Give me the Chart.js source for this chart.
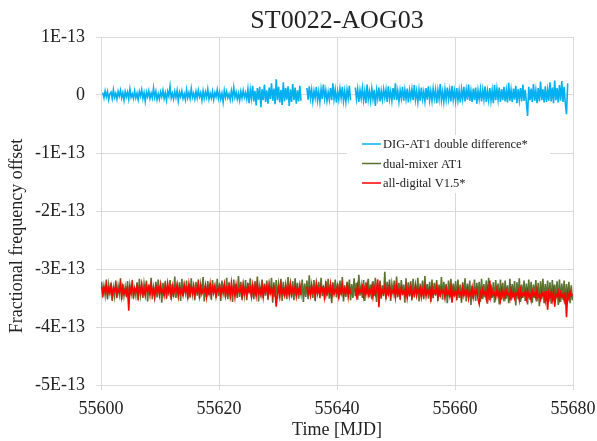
<!DOCTYPE html>
<html>
<head>
<meta charset="utf-8">
<script src="https://cdn.jsdelivr.net/npm/chart.js@4.4.1/dist/chart.umd.min.js"></script>
<style>
    html, body { margin: 0; padding: 0; background: #fff; }
    #wrap { width: 597px; height: 441px; }
</style>
</head>
<body>
<div id="wrap"><canvas id="chart" width="597" height="441"></canvas></div>
<script>
// sampling: MJD 55600.1 + 0.2 * i, values in units of 1E-15
const mjdStart = 55600.1;
const mjdStep = 0.2;

const yTicks = [-500, -400, -300, -200, -100, 0, 100];
const xTicks = [55600, 55620, 55640, 55660, 55680];

const seriesNames = ['DIG-AT1 double difference*', 'dual-mixer AT1', 'all-digital V1.5*'];
const seriesColors = ['#00b0f0', '#5a7330', '#ff0000'];

const digAt1 = [
    null, 4, -5, 7, -3, 6, -8, 2, 5, -6, 9, -4, 3, -7, 6, -2, 8, -5, 4, -9,
    6, -3, 5, -7, 10, -4, 2, -6, 7, -5, 3, -8, 6, -2, 9, -6, 4, -11, 5, -3,
    7, -6, 3, -5, 12, -4, 6, -8, 2, -7, 5, -3, 8, -6, 4, -9, 6, -2, 15, -5,
    3, -7, 6, -4, 8, -10, 5, -3, 7, -6, 2, -8, 9, -5, 4, -6, 11, -4, 3, -7,
    6, -5, 8, -3, 4, -9, 7, -6, 5, -4, 10, -7, 3, -5, 6, -8, 4, -3, 9, -6,
    5, -7, 3, -12, 8, -4, 6, -5, 2, -8, 7, -6, 13, -4, 5, -7, 3, -9, 6, -5,
    8, -4, 4, -7, 10, -14, 9, -6, 16, -11, 7, -18, 12, -8, 14, -21, 10, -9, 18, -12,
    8, -15, 13, -7, 20, -10, 11, -16, 27, -9, 14, -13, 9, -17, 22, -11, 12, -8, 15, -19,
    10, -12, 19, -9, 13, -15, 8, -11, 16, -10, null, null, null, null, 12, -8, 15, -6, 9, -11,
    7, -5, 14, -9, 6, -12, 10, -7, 18, -6, 8, -10, 5, -8, 12, -9, 20, -7, 9, -13,
    6, -8, 11, -5, 14, -10, 7, -12, 9, -6, 16, -9, null, null, null, 13, -7, 10, -12, 8,
    -6, 12, -9, 7, -14, 18, -8, 6, -10, 11, -7, 9, -19, 8, -6, 13, -11, 7, -8, 10,
    -5, 9, -12, 15, -7, 6, -10, 12, -8, 20, -9, 7, -11, 8, -6, 14, -10, 9, -7, 11,
    -13, 8, -6, 10, -9, 17, -8, 7, -12, 9, -10, 13, -7, 6, -11, 12, -8, 15, -9, 7,
    -10, 11, -6, 9, -14, 8, -7, 19, -9, 6, -12, 10, -8, 13, -7, 9, -11, 16, -8, 7,
    -10, 12, -9, 8, -13, 10, -7, 14, -11, 9, -8, 18, -10, 7, -12, 11, -9, 13, -15, 8,
    -7, 10, -11, 9, -8, 15, -12, 7, -9, 12, -10, 8, -14, 17, -9, 11, -8, 13, -12, 10,
    -9, 14, -11, 8, -13, 21, -10, 9, -12, 11, -8, 16, -14, 10, -9, 12, -11, 18, -10, 9,
    -13, -36, 14, -9, 11, -12, 19, -10, 8, -14, 12, -11, 23, -9, 10, -13, 15, -12, 9, -10,
    22, -11, 13, -14, 25, -9, 12, -13, 17, -10, 24, -12, 14, -15, -33, 20, null, null, null, null
];

const dualMixer = [
    -322, -349, -330, -345, -318, -352, -327, -341, -324, -355, -333, -347, -320, -350, -329, -343, -316, -353, -326, -346,
    -331, -348, -321, -357, -328, -342, -319, -351, -334, -346, -323, -354, -317, -345, -330, -350, -325, -340, -320, -356,
    -327, -344, -315, -352, -332, -347, -322, -349, -318, -343, -329, -358, -324, -346, -321, -351, -335, -342, -319, -353,
    -326, -348, -313, -350, -330, -345, -323, -355, -317, -347, -328, -341, -320, -352, -325, -349, -316, -344, -331, -354,
    -322, -346, -318, -351, -327, -343, -314, -356, -329, -348, -321, -345, -324, -353, -319, -340, -330, -350, -317, -347,
    -325, -355, -320, -342, -328, -349, -315, -352, -323, -346, -331, -357, -318, -344, -326, -350, -312, -348, -322, -353,
    -329, -345, -319, -354, -324, -341, -316, -349, -327, -352, -321, -347, -313, -356, -330, -343, -318, -350, -325, -346,
    -320, -353, -328, -344, -315, -358, -323, -348, -319, -351, -326, -342, -317, -355, -322, -347, -329, -352, -314, -345,
    -327, -349, -321, -354, -316, -346, -324, -351, -330, -343, -318, -357, -325, -348, -320, -352, -311, -345, -328, -350,
    -319, -355, -326, -341, -322, -350, -315, -347, -329, -353, -321, -346, -317, -351, -327, -359, -323, -344, -318, -349,
    -325, -352, -320, -345, -314, -356, -328, -348, -322, -343, -318, -354, -326, -350, -316, -347, -324, -353, -310, -346,
    -329, -350, -319, -355, -323, -344, -317, -349, -327, -352, -321, -346, -315, -357, -325, -343, -320, -351, -328, -347,
    -305, -352, -322, -346, -318, -355, -326, -341, -320, -350, -313, -348, -324, -353, -319, -345, -327, -358, -316, -349,
    -323, -347, -321, -354, -317, -349, -328, -344, -315, -356, -325, -348, -320, -352, -312, -346, -326, -351, -322, -357,
    -318, -350, -324, -345, -319, -355, -327, -348, -314, -353, -322, -343, -326, -359, -320, -349, -317, -352, -325, -347,
    -321, -354, -318, -350, -327, -358, -323, -346, -316, -356, -325, -349, -320, -362, -329, -351, -318, -355, -324, -348,
    -322, -357, -317, -352, -326, -349, -320, -360, -315, -354, -327, -350, -323, -358, -319, -347, -325, -361, -318, -353,
    -324, -356, -320, -351, -328, -359, -317, -354, -326, -349, -321, -363, -323, -352, -316, -357, -327, -350, -320, -355,
    -325, -361, -318, -353, -322, -358, -327, -350, -319, -356, -324, -364, -321, -352, -317, -359, -326, -354, -320, -357,
    -323, -360, -319, -355, -327, -352, -321, -362, -318, -357, -325, -353, -320, -361, -326, -356, -322, -359, -328, -354
];

const allDigital = [
    -330, -343, -332, -339, -327, -345, -334, -341, -329, -346, -333, -338, -328, -344, -335, -340, -326, -347, -331, -342,
    -336, -344, -329, -372, -333, -341, -327, -345, -334, -339, -330, -347, -332, -340, -326, -343, -335, -346, -329, -338,
    -331, -345, -327, -342, -334, -348, -330, -339, -333, -344, -328, -341, -336, -346, -329, -343, -325, -340, -332, -347,
    -330, -344, -334, -338, -327, -346, -331, -342, -335, -345, -328, -339, -333, -347, -326, -343, -332, -341, -329, -345,
    -334, -340, -327, -346, -331, -343, -336, -339, -328, -348, -333, -342, -326, -345, -332, -341, -330, -347, -335, -338,
    -329, -344, -333, -340, -327, -346, -334, -342, -330, -345, -324, -341, -332, -348, -328, -343, -335, -339, -331, -346,
    -327, -342, -334, -345, -330, -340, -333, -347, -328, -343, -331, -346, -326, -341, -335, -344, -329, -348, -332, -339,
    -330, -345, -327, -342, -334, -346, -331, -340, -365, -343, -333, -347, -328, -341, -335, -345, -329, -342, -332, -346,
    -327, -344, -334, -340, -330, -347, -333, -341, -328, -345, null, null, null, null, -331, -343, -335, -346, -329, -340,
    -333, -347, -327, -342, -335, -345, -330, -339, -332, -348, -328, -343, -334, -341, -326, -346, -331, -344, -336, -340,
    -329, -347, -333, -342, -327, -345, -335, -341, -330, -348, -332, -343, null, null, null, -334, -346, -329, -342, -336,
    -340, -331, -347, -334, -343, -328, -345, -336, -341, -330, -348, -333, -344, -335, -318, -366, -332, -345, -337, -342,
    -331, -348, -335, -343, -329, -346, -337, -341, -333, -349, -330, -344, -336, -347, -332, -342, -338, -345, -331, -350,
    -336, -343, -332, -348, -338, -344, -330, -346, -335, -341, -333, -349, -337, -345, -331, -347, -336, -342, -334, -350,
    -332, -346, -338, -343, -331, -349, -336, -345, -334, -341, -337, -350, -333, -344, -339, -347, -332, -358, -336, -345,
    -338, -348, -334, -343, -340, -350, -333, -346, -337, -344, -335, -351, -339, -345, -332, -349, -338, -343, -336, -352,
    -360, -340, -347, -335, -344, -339, -351, -334, -346, -320, -348, -337, -345, -341, -350, -336, -347, -339, -353, -335,
    -346, -340, -349, -337, -344, -342, -352, -336, -347, -339, -350, -341, -345, -338, -353, -336, -348, -342, -346, -339,
    -351, -337, -347, -343, -354, -338, -346, -341, -350, -336, -348, -344, -352, -339, -346, -342, -355, -338, -370, -341,
    -349, -340, -353, -338, -365, -343, -347, -339, -352, -341, -348, -344, -354, -340, -383, -342, -350, -339, -347, -343
];

const serif = 'Liberation Serif, Times New Roman, serif';
const gridColor = '#d9d9d9';
const textColor = '#222';
const yTitle = 'Fractional frequency offset';

function toPoints(values) {
    return values.map((v, i) => ({ x: mjdStart + i * mjdStep, y: v }));
}

function formatY(value) {
    if (value === 0) return '0';
    return (value / 100) + 'E-13';
}

// legend inside the plot on a white box, and the y title sitting a bit low like the original
const extras = {
    id: 'extras',
    afterDatasetsDraw(chart) {
        const ctx = chart.ctx;
        const area = chart.chartArea;
        const bx = area.left + 246, by = area.top + 98;
        ctx.save();
        ctx.fillStyle = '#fff';
        ctx.fillRect(bx, by, 203, 58);
        ctx.font = '12.5px ' + serif;
        ctx.textBaseline = 'middle';
        ctx.textAlign = 'left';
        chart.data.datasets.forEach((ds, i) => {
            const y = by + 9 + i * 19.5;
            ctx.strokeStyle = ds.borderColor;
            ctx.lineWidth = 1.5;
            ctx.beginPath();
            ctx.moveTo(bx + 15, y);
            ctx.lineTo(bx + 34, y);
            ctx.stroke();
            ctx.fillStyle = textColor;
            ctx.fillText(ds.label, bx + 36, y + 1);
        });

        ctx.translate(17, (area.top + area.bottom) / 2 + 25);
        ctx.rotate(-Math.PI / 2);
        ctx.font = '18px ' + serif;
        ctx.textAlign = 'center';
        ctx.fillText(yTitle, 0, 0);
        ctx.restore();
    }
};

const ctx = document.getElementById('chart');
const chart = new Chart(ctx, {
    type: 'line',
    data: {
        datasets: [{
            label: seriesNames[0],
            data: toPoints(digAt1),
            borderColor: seriesColors[0],
            order: 0,
        }, {
            label: seriesNames[1],
            data: toPoints(dualMixer),
            borderColor: seriesColors[1],
            order: 2,
        }, {
            label: seriesNames[2],
            data: toPoints(allDigital),
            borderColor: seriesColors[2],
            order: 1,
        }]
    },
    options: {
        responsive: false,
        animation: false,
        devicePixelRatio: 1,
        spanGaps: false,
        elements: {
            line: { borderWidth: 1.6, tension: 0 },
            point: { radius: 0 }
        },
        layout: { padding: { left: 0, right: 24, top: 0, bottom: 0 } },
        scales: {
            x: {
                type: 'linear',
                min: 55600,
                max: 55680,
                afterBuildTicks: (scale) => { scale.ticks = xTicks.map(v => ({ value: v })); },
                afterFit: (scale) => {
                    scale.height = 56;
                    scale.paddingLeft = 0;
                    scale.paddingRight = 0;
                },
                grid: { color: gridColor, tickLength: 5 },
                border: { color: gridColor },
                ticks: {
                    color: textColor,
                    font: { family: serif, size: 18 },
                    padding: 8,
                    maxRotation: 0,
                    callback: (v) => String(v),
                },
                title: {
                    display: true,
                    text: 'Time [MJD]',
                    color: textColor,
                    font: { family: serif, size: 18 },
                    padding: { top: 0, bottom: 0 },
                }
            },
            y: {
                min: -500,
                max: 100,
                afterBuildTicks: (scale) => { scale.ticks = yTicks.map(v => ({ value: v })); },
                afterFit: (scale) => { scale.width = 101; },
                grid: { color: gridColor, tickLength: 5 },
                border: { color: gridColor },
                ticks: {
                    color: textColor,
                    font: { family: serif, size: 18 },
                    padding: 11,
                    callback: formatY,
                },
                title: { display: false }
            }
        },
        plugins: {
            legend: { display: false },
            tooltip: { enabled: false },
            title: {
                display: true,
                fullSize: false,
                text: 'ST0022-AOG03',
                color: textColor,
                font: { family: serif, size: 26, weight: 'normal', lineHeight: 1 },
                padding: { top: 8, bottom: 3 },
            }
        }
    },
    plugins: [extras],
});
</script>
</body>
</html>
